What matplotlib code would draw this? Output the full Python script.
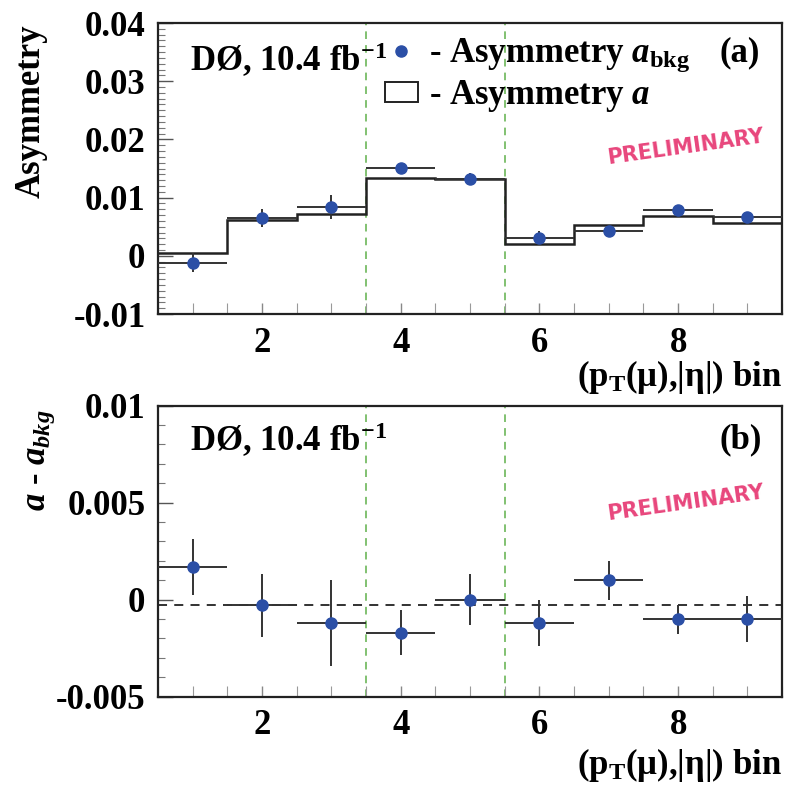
import numpy as np
import matplotlib
matplotlib.use("Agg")
import matplotlib.pyplot as plt
from matplotlib.lines import Line2D
from matplotlib.patches import Patch
from matplotlib.ticker import MultipleLocator

plt.rcParams['font.family'] = ['Liberation Serif', 'DejaVu Serif']
plt.rcParams['font.weight'] = 'bold'
plt.rcParams['mathtext.fontset'] = 'custom'
plt.rcParams['mathtext.rm'] = 'Liberation Serif:bold'
plt.rcParams['mathtext.bf'] = 'Liberation Serif:bold'
plt.rcParams['mathtext.it'] = 'Liberation Serif:bold:italic'

# ---------------- data ----------------
bins = np.arange(1, 10)
edges = np.arange(0.5, 10.0, 1.0)
asym_a = [0.0005, 0.0062, 0.0072, 0.0134, 0.0132, 0.0020, 0.0053, 0.0069, 0.0057]
asym_bkg = [-0.0012, 0.0065, 0.0084, 0.0151, 0.0132, 0.0031, 0.0043, 0.0078, 0.0066]
asym_bkg_err = [0.0016, 0.0015, 0.0021, 0.0008, 0.0010, 0.0011, 0.0009, 0.0009, 0.0010]
diff = [0.0017, -0.0003, -0.0012, -0.0017, 0.0000, -0.0012, 0.0010, -0.0010, -0.0010]
diff_err = [0.00145, 0.0016, 0.0022, 0.00115, 0.0013, 0.0012, 0.0010, 0.00075, 0.0012]
diff_mean = -0.0003
region_bounds = [3.5, 5.5]
xticks = [2, 4, 6, 8]
yticks_top = [-0.01, 0, 0.01, 0.02, 0.03, 0.04]
yticks_bot = [-0.005, 0, 0.005, 0.01]

BLUE = '#2b4fa6'
PINK = '#e8467c'
GREEN = '#5fb04a'
FS = 25

fig = plt.figure(figsize=(7.88, 7.88), dpi=100)
ax1 = fig.add_axes([0.2005, 0.6015, 0.792, 0.3693])
ax2 = fig.add_axes([0.2005, 0.1159, 0.792, 0.3693])

def style(ax, yticks, ylim, yminor):
    ax.set_xlim(0.5, 9.5)
    ax.set_ylim(*ylim)
    ax.set_xticks(xticks)
    ax.xaxis.set_minor_locator(MultipleLocator(0.5))
    ax.set_yticks(yticks)
    ax.set_yticklabels(['0' if v == 0 else ('%g' % v) for v in yticks])
    ax.yaxis.set_minor_locator(MultipleLocator(yminor))
    ax.tick_params(axis='both', which='both', direction='in', top=False, right=False,
                   labelsize=FS, pad=9)
    ax.tick_params(axis='y', which='major', length=11, width=1.0, color='#555555')
    ax.tick_params(axis='y', which='minor', length=5, width=0.8, color='#777777')
    ax.tick_params(axis='x', which='major', length=8, width=1.0, color='#888888')
    ax.tick_params(axis='x', which='minor', length=8, width=0.8, color='#999999')
    for s in ax.spines.values():
        s.set_linewidth(1.6)
        s.set_color('#222222')
    for lab in ax.get_xticklabels() + ax.get_yticklabels():
        lab.set_fontweight('bold')
    for xb in region_bounds:
        ax.axvline(xb, color=GREEN, lw=1.1, ls=(0, (5, 4)), zorder=1)

style(ax1, yticks_top, (-0.01, 0.04), 0.001)
style(ax2, yticks_bot, (-0.005, 0.01), 0.001)

# ---- top panel ----
ax1.stairs(asym_a, edges, color='#222222', lw=1.8, baseline=None, zorder=2)
ax1.errorbar(bins, asym_bkg, xerr=0.5, yerr=asym_bkg_err, fmt='o', color=BLUE,
             ecolor='#333333', elinewidth=1.4, markersize=8, zorder=3, capsize=0)

leg_handles = [Line2D([], [], marker='o', ls='none', color=BLUE, markersize=8),
               Patch(facecolor='white', edgecolor='#222222', lw=1.4)]
leg_labels = [r'- Asymmetry $a_{\mathrm{bkg}}$', r'- Asymmetry $a$']
leg = ax1.legend(leg_handles, leg_labels, loc='upper left',
                 bbox_to_anchor=(0.358, 0.965), frameon=False, fontsize=FS,
                 handlelength=0.95, handleheight=0.5, handletextpad=0.32,
                 labelspacing=0.11, borderaxespad=0.0, borderpad=0.1)
for t in leg.get_texts():
    t.set_fontweight('bold')

ax1.text(0.051, 0.873, r'DØ, 10.4 fb$^{\mathbf{-1}}$', transform=ax1.transAxes,
         fontsize=FS, fontweight='bold', ha='left', va='center')
ax1.text(0.90, 0.897, '(a)', transform=ax1.transAxes, fontsize=FS,
         fontweight='bold', ha='left', va='center')
ax1.text(0.845, 0.574, 'PRELIMINARY', transform=ax1.transAxes, fontsize=15,
         fontweight='bold', family='DejaVu Sans', color=PINK, rotation=8,
         ha='center', va='center')

# ---- bottom panel ----
ax2.axhline(diff_mean, color='#222222', lw=1.3, ls=(0, (5, 4)), zorder=1)
ax2.errorbar(bins, diff, xerr=0.5, yerr=diff_err, fmt='o', color=BLUE,
             ecolor='#333333', elinewidth=1.4, markersize=8, zorder=3, capsize=0)
ax2.text(0.051, 0.882, r'DØ, 10.4 fb$^{\mathbf{-1}}$', transform=ax2.transAxes,
         fontsize=FS, fontweight='bold', ha='left', va='center')
ax2.text(0.90, 0.882, '(b)', transform=ax2.transAxes, fontsize=FS,
         fontweight='bold', ha='left', va='center')
ax2.text(0.845, 0.666, 'PRELIMINARY', transform=ax2.transAxes, fontsize=15,
         fontweight='bold', family='DejaVu Sans', color=PINK, rotation=8,
         ha='center', va='center')

# ---- axis titles ----
fig.text(31 / 788, 1 - 111 / 788, 'Asymmetry', rotation=90, fontsize=FS,
         fontweight='bold', ha='center', va='center')
fig.text(41 / 788, 1 - 460 / 788, r'$a$ - $a_{bkg}$', rotation=90, fontsize=FS,
         fontweight='bold', ha='center', va='center')
xlab = r'(p$_{\mathrm{T}}$(μ),|η|) bin'
fig.text(782 / 788, 1 - 377 / 788, xlab, fontsize=FS, fontweight='bold',
         ha='right', va='center')
fig.text(782 / 788, 1 - 765 / 788, xlab, fontsize=FS, fontweight='bold',
         ha='right', va='center')

fig.savefig('out.png', dpi=100)
